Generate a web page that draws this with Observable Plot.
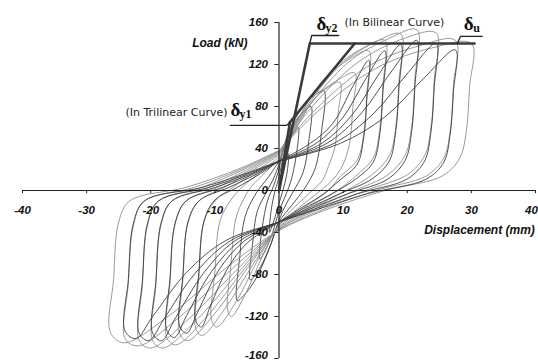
<!DOCTYPE html>
<html>
<head>
<meta charset="utf-8">
<script src="https://cdn.jsdelivr.net/npm/d3@7"></script>
<script src="https://cdn.jsdelivr.net/npm/@observablehq/plot@0.6"></script>
<style>
  html, body { margin: 0; padding: 0; background: #fff; }
  #chart svg { display: block; }
</style>
</head>
<body>
<div id="chart"></div>
<script>
// Tick values
const xTicks = [-40, -30, -20, -10, 0, 10, 20, 30, 40];
const yTicks = [-160, -120, -80, -40, 0, 40, 80, 120, 160];

// First cycle at each amplitude: [displacement (mm), load (kN)]
const cycle1 = [[0,0],[0.5,18],[1.1,30],[1.5,35],[1.2,15],[0.6,0],[0,-12],[-0.6,-25],[-1.2,-36],[-1.5,-40],[-1.2,-18],[-0.6,0],[0,12]];
const cycle2 = [[0,12],[0.8,35],[2,52],[3,60],[2.6,30],[1.8,8],[0.8,-8],[0,-20],[-1,-40],[-2.2,-58],[-3,-65],[-2.6,-35],[-1.8,-10],[-0.8,5],[0,20]];
const cycle3 = [[0,20],[1,45],[2.8,68],[4.2,77],[5,80],[4.6,45],[3.8,18],[2.6,3],[1.2,-12],[0,-28],[-1.2,-50],[-2.8,-72],[-4,-83],[-4.5,-85],[-4.1,-50],[-3.4,-20],[-2,-2],[-0.8,12],[0,25]];
const cycle4 = [[0,25],[1.3,52],[3.5,78],[5.6,91],[7,95],[6.6,55],[5.7,22],[4.1,3],[2,-14],[0,-30],[-1.5,-55],[-3.6,-84],[-5.5,-100],[-6.5,-105],[-6.1,-62],[-5.3,-25],[-3.6,-3],[-1.5,14],[0,28]];
const cycle5 = [[0,28],[1.9,52],[4.75,82],[7.6,98],[9.5,103],[9.2,72],[8.7,41],[7.7,23],[6.8,10],[5.2,0],[2.4,-16],[0,-32],[-2.4,-60],[-5.2,-98],[-7.4,-120],[-8,-114],[-7.5,-72],[-6.7,-26],[-5.5,-8],[-4.4,3],[-2,18],[0,30]];
const cycle6 = [[0,30],[2.4,56],[5.9,90],[9.4,106],[11.8,112],[11.5,78],[11,45],[10,25],[8.5,11],[6.5,0],[3,-17],[0,-33],[-3.2,-65],[-6.8,-107],[-9.7,-130],[-10.5,-124],[-10,-78],[-9.2,-29],[-7.5,-9],[-5.8,3],[-2.6,19],[0,32]];
const cycle7 = [[0,32],[2.8,66],[7,106],[11.2,126],[14,133],[13.7,93],[13.2,53],[12.2,29],[9.5,13],[7.7,0],[3.5,-18],[0,-34],[-3.9,-69],[-8.5,-113],[-12,-138],[-13,-131],[-12.5,-83],[-11.7,-30],[-10,-10],[-7.2,3],[-3.2,20],[0,34]];
const cycle8 = [[0,34],[3.3,72],[8.2,114],[13.2,136],[16.5,143],[16.2,100],[15.7,57],[14.7,31],[12,14],[9.1,0],[4.1,-18],[0,-35],[-4.7,-72],[-10,-117],[-14.3,-143],[-15.5,-136],[-15,-86],[-14.2,-31],[-12.5,-10],[-8.5,3],[-3.9,20],[0,35]];
const cycle9 = [[0,35],[3.8,75],[9.5,119],[15.2,142],[19,149],[18.7,104],[18.2,60],[17.2,33],[14.5,15],[10.5,0],[4.8,-18],[0,-36],[-5.3,-74],[-11.4,-121],[-16.1,-147],[-17.5,-140],[-17,-88],[-16.2,-32],[-14.5,-10],[-9.6,3],[-4.4,20],[0,36]];
const cycle10 = [[0,36],[4.3,77],[10.8,122],[17.2,145],[21.5,153],[21.2,107],[20.7,61],[19.7,34],[17,15],[11.8,0],[5.4,-18],[0,-37],[-5.9,-75],[-12.8,-123],[-18.1,-150],[-19.7,-143],[-19.2,-90],[-18.4,-33],[-16.7,-10],[-10.8,3],[-4.9,20],[0,37]];
const cycle11 = [[0,37],[4.9,78],[12.3,122],[19.6,145],[24.5,150],[24.2,105],[23.7,60],[22.7,33],[20,15],[13.5,0],[6.1,-18],[0,-37],[-6.5,-75],[-14.2,-123],[-20,-150],[-21.8,-143],[-21.3,-90],[-20.5,-33],[-18.8,-10],[-12,3],[-5.5,20],[0,37]];
const cycle12 = [[0,37],[5.5,76],[13.8,118],[22,138],[27.5,143],[27.2,100],[26.7,57],[25.7,31],[23,14],[15.1,0],[6.9,-18],[0,-38],[-7.2,-74],[-15.6,-121],[-22,-148],[-24,-141],[-23.5,-89],[-22.7,-33],[-21,-10],[-13.2,3],[-6,20],[0,38]];
const cycle13 = [[0,38],[6,75],[15,116],[24,136],[30,140],[29.7,98],[29.2,56],[28.2,31],[25.5,14],[16.5,0],[7.5,-18],[0,-38],[-7.9,-72],[-17.1,-119],[-24.2,-145],[-26.3,-135],[-25.8,-85],[-25,-30],[-23.3,-10],[-14.5,3],[-6.5,20],[0,38]];

// Repeated (pinched) cycles at the larger amplitudes
const repeat7 = [[0,28],[4.9,45],[8.4,64],[11.5,99],[14,124],[13.7,87],[13.2,50],[12.2,25],[9.5,10],[7,-3],[3.1,-18],[0,-30],[-4.6,-48],[-7.8,-72],[-10.7,-110],[-12.1,-130],[-13,-124],[-12.5,-78],[-11.7,-29],[-10,-9],[-6.5,3],[-2.9,16],[0,28]];
const repeat8 = [[0,28],[5.8,45],[9.9,69],[13.5,106],[16.5,133],[16.2,93],[15.7,53],[14.7,27],[12,11],[8.3,-3],[3.6,-18],[0,-30],[-5.4,-48],[-9.3,-75],[-12.7,-116],[-14.4,-136],[-15.5,-129],[-15,-82],[-14.2,-30],[-12.5,-10],[-7.8,3],[-3.4,16],[0,28]];
const repeat9 = [[0,28],[6.7,45],[11.4,72],[15.6,111],[19,139],[18.7,97],[18.2,56],[17.2,28],[14.5,11],[9.5,-3],[4.2,-18],[0,-30],[-6.1,-48],[-10.5,-77],[-14.4,-119],[-16.3,-140],[-17.5,-133],[-17,-84],[-16.2,-31],[-14.5,-10],[-8.8,3],[-3.9,16],[0,28]];
const repeat10 = [[0,28],[7.5,45],[12.9,74],[17.6,114],[21.5,143],[21.2,100],[20.7,57],[19.7,29],[17,11],[10.8,-3],[4.7,-18],[0,-30],[-6.9,-48],[-11.8,-79],[-16.2,-122],[-18.3,-143],[-19.7,-136],[-19.2,-86],[-18.4,-31],[-16.7,-10],[-9.9,3],[-4.3,16],[0,28]];
const repeat11 = [[0,28],[8.6,45],[14.7,73],[20.1,112],[24.5,140],[24.2,98],[23.7,56],[22.7,28],[20,11],[12.3,-3],[5.4,-18],[0,-30],[-7.6,-48],[-13.1,-79],[-17.9,-122],[-20.3,-143],[-21.8,-136],[-21.3,-86],[-20.5,-31],[-18.8,-10],[-10.9,3],[-4.8,16],[0,28]];
const repeat12 = [[0,28],[9.6,45],[16.5,70],[22.6,107],[27.5,134],[27.2,94],[26.7,54],[25.7,27],[23,11],[13.8,-3],[6,-18],[0,-30],[-8.4,-48],[-14.4,-78],[-19.7,-120],[-22.3,-141],[-24,-134],[-23.5,-85],[-22.7,-31],[-21,-10],[-12,3],[-5.3,16],[0,28]];

// Idealised curves
const bilinear = [[0,0],[4.8,140],[30.5,140]];
const trilinear = [[0,0],[1.7,65],[11.8,140]];

const firstCycles = [cycle1,cycle2,cycle3,cycle4,cycle5,cycle6,cycle7,cycle8,cycle9,cycle10,cycle11,cycle12,cycle13];
const repeatCycles = [repeat7,repeat8,repeat9,repeat10,repeat11,repeat12];
const loopData = [
  ...firstCycles.flatMap((c, i) => c.map(([d, p]) => ({id: "c" + i, dark: i < 4, d, p}))),
  ...repeatCycles.flatMap((c, i) => c.map(([d, p]) => ({id: "r" + i, dark: true, d, p})))
];
const toRows = arr => arr.map(([d, p]) => ({d, p}));

const tickFont = {fontFamily: "Liberation Sans, Arial, sans-serif", fontSize: 11.5, fontWeight: "bold", fontStyle: "italic", fill: "#111"};
const titleFont = {fontFamily: "Liberation Sans, Arial, sans-serif", fontSize: 12, fontWeight: "bold", fontStyle: "italic", fill: "#111"};
const noteFont = {fontFamily: "DejaVu Sans, sans-serif", fontSize: 11, fill: "#222"};
const greek = {fontFamily: "Liberation Serif, DejaVu Serif, serif", fontWeight: "bold", fill: "#111", lineAnchor: "bottom", textAnchor: "start"};

const xInner = xTicks.filter(t => t !== 40);
const xLast = xTicks.filter(t => t === 40);
const yInner = yTicks.filter(t => t !== -160);
const yLast = yTicks.filter(t => t === -160);

const chart = Plot.plot({
  width: 538,
  height: 361,
  marginLeft: 22,
  marginRight: 3,
  marginTop: 22,
  marginBottom: 3,
  x: {domain: [-40, 40], axis: null},
  y: {domain: [-160, 160], axis: null},
  color: {type: "identity"},
  style: {background: "#fff"},
  marks: [
    // hysteresis loops
    Plot.line(loopData, {x: "d", y: "p", z: "id", stroke: r => (r.dark ? "#3e3e3e" : "#8e8e8e"), strokeWidth: 0.9, curve: "catmull-rom"}),
    // axes
    Plot.ruleY([0], {x1: -40, x2: 40, stroke: "#222", strokeWidth: 1.2}),
    Plot.ruleX([0], {y1: -160, y2: 160, stroke: "#222", strokeWidth: 1.2}),
    Plot.ruleX(xTicks, {y1: 0, y2: -3, stroke: "#222"}),
    Plot.ruleY(yTicks, {x1: -0.65, x2: 0, stroke: "#222"}),
    Plot.text(xInner, {x: d => d, y: 0, text: d => String(d), dy: 23, lineAnchor: "bottom", ...tickFont}),
    Plot.text(xLast, {x: d => d, y: 0, text: d => String(d), dy: 23, dx: -4, lineAnchor: "bottom", ...tickFont}),
    Plot.text(yInner, {x: 0, y: d => d, text: d => String(d), dx: -11, textAnchor: "end", ...tickFont}),
    Plot.text(yLast, {x: 0, y: d => d, text: d => String(d), dx: -11, dy: -3, textAnchor: "end", ...tickFont}),
    // idealised curves
    Plot.line(toRows(bilinear), {x: "d", y: "p", stroke: "#3a3a3a", strokeWidth: 2.6}),
    Plot.line(toRows(trilinear), {x: "d", y: "p", stroke: "#3a3a3a", strokeWidth: 2.6}),
    // leaders
    Plot.line(toRows([[-7.6,62],[1.2,62],[1.7,65]]), {x: "d", y: "p", stroke: "#222", strokeWidth: 1.3}),
    Plot.line(toRows([[4.8,140],[5.1,147.6],[9.3,147.6]]), {x: "d", y: "p", stroke: "#222", strokeWidth: 1.3}),
    Plot.line(toRows([[27.8,140],[28.3,146.7],[31.7,146.7]]), {x: "d", y: "p", stroke: "#222", strokeWidth: 1.3}),
    // labels
    Plot.text(["Load (kN)"], {x: -4.91, y: 136.2, textAnchor: "end", lineAnchor: "bottom", ...titleFont}),
    Plot.text(["Displacement (mm)"], {x: 39.9, y: -41, textAnchor: "end", lineAnchor: "bottom", ...titleFont}),
    Plot.text(["(In Trilinear Curve)"], {x: -8.03, y: 71.4, textAnchor: "end", lineAnchor: "bottom", ...noteFont}),
    Plot.text(["(In Bilinear Curve)"], {x: 10.2, y: 156.2, textAnchor: "start", lineAnchor: "bottom", ...noteFont}),
    Plot.text(["δ"], {x: -7.56, y: 71.4, fontSize: 19, ...greek}),
    Plot.text(["y1"], {x: -6.16, y: 69.5, fontSize: 12, ...greek}),
    Plot.text(["δ"], {x: 5.85, y: 152.4, fontSize: 19, ...greek}),
    Plot.text(["y2"], {x: 7.25, y: 150.5, fontSize: 12, ...greek}),
    Plot.text(["δ"], {x: 28.8, y: 152.4, fontSize: 19, ...greek}),
    Plot.text(["u"], {x: 30.3, y: 151.4, fontSize: 12, ...greek})
  ]
});
document.getElementById("chart").appendChild(chart);
</script>
</body>
</html>
